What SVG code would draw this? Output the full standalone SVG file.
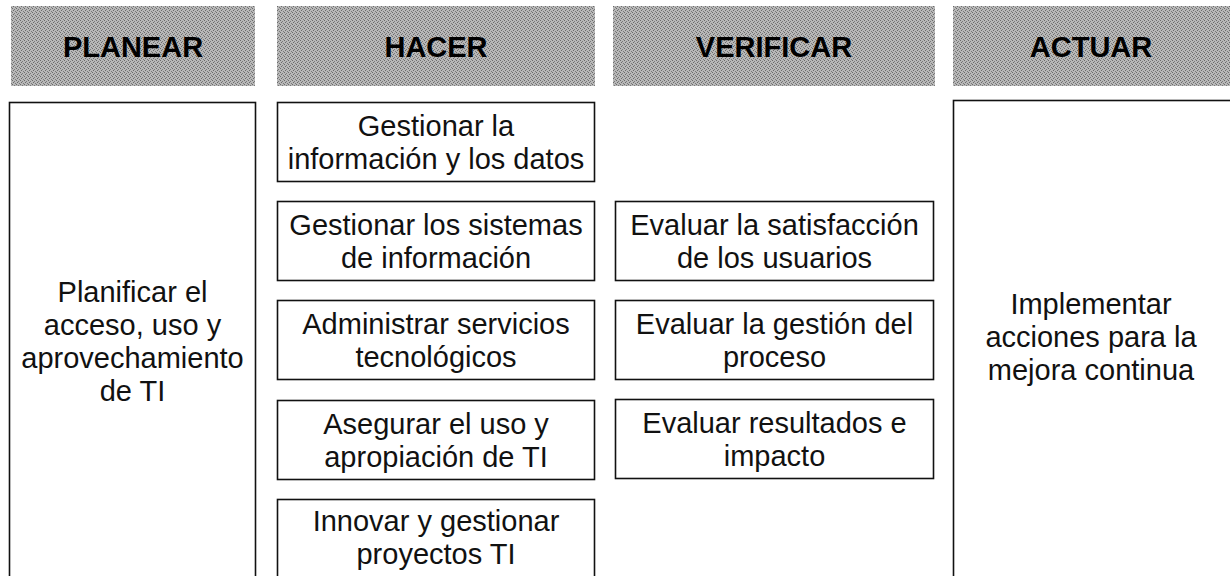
<svg xmlns="http://www.w3.org/2000/svg" width="1230" height="576" viewBox="0 0 1230 576">
<defs>
<pattern id="dither" width="4" height="4" patternUnits="userSpaceOnUse">
<rect width="4" height="4" fill="#b8b8b8"/>
<rect x="0" y="0" width="1" height="1" fill="#6a6a6a"/>
<rect x="2" y="1" width="1" height="1" fill="#7a7a7a"/>
<rect x="1" y="2" width="1" height="1" fill="#6a6a6a"/>
<rect x="3" y="3" width="1" height="1" fill="#7a7a7a"/>
</pattern>
</defs>
<style>
.hdr{fill:url(#dither);stroke:none}
.htxt{font-family:"Liberation Sans",Arial,sans-serif;font-weight:bold;font-size:29px;fill:#000;text-anchor:middle}
.box{fill:#fff;stroke:#111;stroke-width:1.6}
.txt{font-family:"Liberation Sans",Arial,sans-serif;font-size:29px;fill:#111;text-anchor:middle}
</style>
<rect width="1230" height="576" fill="#fff"/>

<g id="header-planear">
<rect class="hdr" x="11" y="6" width="244" height="80"/>
<text class="htxt" x="133" y="57">PLANEAR</text>
</g>
<g id="header-hacer">
<rect class="hdr" x="277" y="6" width="318" height="80"/>
<text class="htxt" x="436" y="57">HACER</text>
</g>
<g id="header-verificar">
<rect class="hdr" x="613" y="6" width="322" height="80"/>
<text class="htxt" x="774" y="57">VERIFICAR</text>
</g>
<g id="header-actuar">
<rect class="hdr" x="953" y="6" width="280" height="80"/>
<text class="htxt" x="1091" y="57">ACTUAR</text>
</g>

<g id="planear-box">
<rect class="box" x="9.5" y="102.5" width="246" height="490"/>
<text class="txt" x="132.5" y="302"><tspan x="132.5">Planificar el</tspan><tspan x="132.5" dy="33">acceso, uso y</tspan><tspan x="132.5" dy="33">aprovechamiento</tspan><tspan x="132.5" dy="33">de TI</tspan></text>
</g>

<g id="hacer-1">
<rect class="box" x="277.5" y="102.5" width="317" height="79"/>
<text class="txt" x="436" y="136"><tspan x="436">Gestionar la</tspan><tspan x="436" dy="33">información y los datos</tspan></text>
</g>
<g id="hacer-2">
<rect class="box" x="277.5" y="201.5" width="317" height="79"/>
<text class="txt" x="436" y="235"><tspan x="436">Gestionar los sistemas</tspan><tspan x="436" dy="33">de información</tspan></text>
</g>
<g id="hacer-3">
<rect class="box" x="277.5" y="300.5" width="317" height="79"/>
<text class="txt" x="436" y="334"><tspan x="436">Administrar servicios</tspan><tspan x="436" dy="33">tecnológicos</tspan></text>
</g>
<g id="hacer-4">
<rect class="box" x="277.5" y="400.5" width="317" height="79"/>
<text class="txt" x="436" y="434"><tspan x="436">Asegurar el uso y</tspan><tspan x="436" dy="33">apropiación de TI</tspan></text>
</g>
<g id="hacer-5">
<rect class="box" x="277.5" y="499.5" width="317" height="100"/>
<text class="txt" x="436" y="531"><tspan x="436">Innovar y gestionar</tspan><tspan x="436" dy="33">proyectos TI</tspan></text>
</g>

<g id="verificar-1">
<rect class="box" x="615.5" y="201.5" width="318" height="79"/>
<text class="txt" x="774.5" y="235"><tspan x="774.5">Evaluar la satisfacción</tspan><tspan x="774.5" dy="33">de los usuarios</tspan></text>
</g>
<g id="verificar-2">
<rect class="box" x="615.5" y="300.5" width="318" height="79"/>
<text class="txt" x="774.5" y="334"><tspan x="774.5">Evaluar la gestión del</tspan><tspan x="774.5" dy="33">proceso</tspan></text>
</g>
<g id="verificar-3">
<rect class="box" x="615.5" y="399.5" width="318" height="79"/>
<text class="txt" x="774.5" y="433"><tspan x="774.5">Evaluar resultados e</tspan><tspan x="774.5" dy="33">impacto</tspan></text>
</g>

<g id="actuar-box">
<rect class="box" x="953.5" y="100.5" width="300" height="490"/>
<text class="txt" x="1091" y="314"><tspan x="1091">Implementar</tspan><tspan x="1091" dy="33">acciones para la</tspan><tspan x="1091" dy="33">mejora continua</tspan></text>
</g>

<g id="connectors"></g>
</svg>
